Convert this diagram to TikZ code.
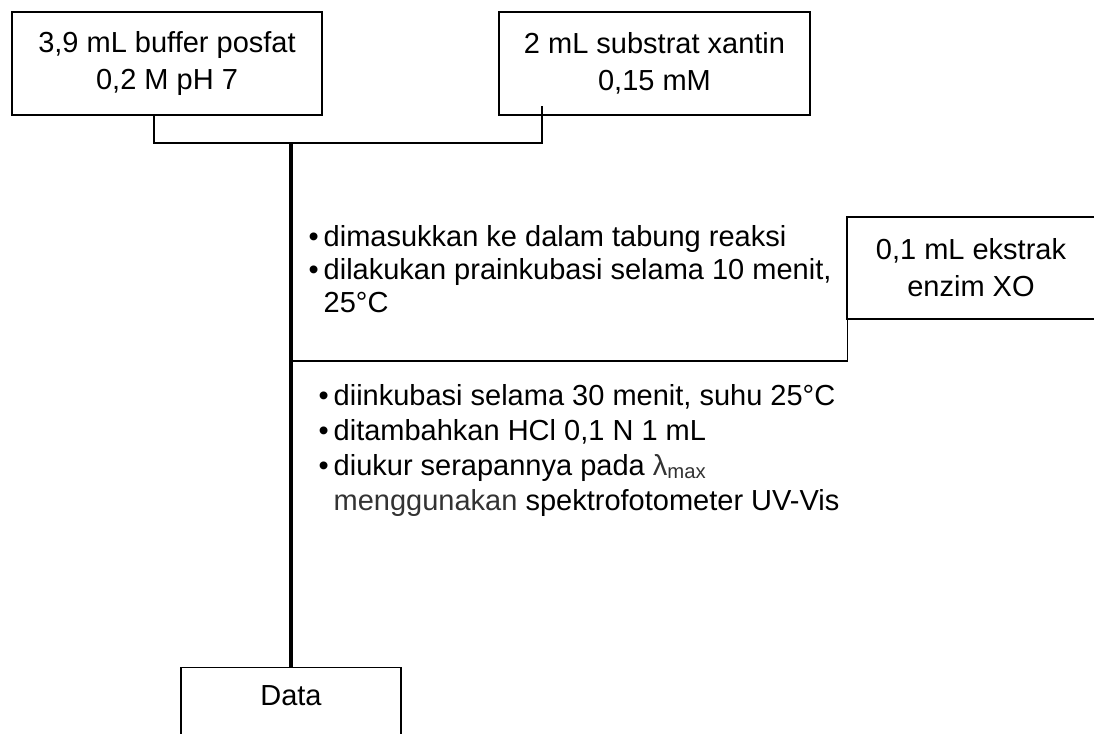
\documentclass[tikz,border=0pt]{standalone}
\usepackage{fontspec}
\setmainfont{Liberation Sans}
\usetikzlibrary{positioning,calc}
\newcommand{\itm}{\makebox[15pt][l]{•}}

\begin{document}
\begin{tikzpicture}[x=1pt,y=-1pt,line width=1.4pt,font=\fontsize{29}{37}\selectfont,
 box/.style={draw,line width=1.4pt,inner sep=0pt,align=center},
 trunk/.style={line width=3.2pt},
 stepline/.style={anchor=base west,inner sep=0pt}]
\useasboundingbox (0,0) rectangle (1094,733);
% bahan awal
\node[box,minimum width=310pt,minimum height=103pt] (buf) at (167,63.5) {3,9 mL buffer posfat\\0,2 M pH 7};
\node[box,minimum width=311pt,minimum height=103pt] (sub) at (654.5,63.5) {2 mL substrat xantin\\0,15 mM};
\node[box,minimum width=248pt,minimum height=102pt] (enz) at (971,268) {0,1 mL ekstrak\\enzim XO};
\node[box,anchor=north,minimum width=220pt,inner sep=9pt,text height=29pt,text depth=57pt] (data) at (291,667) {Data};
\coordinate (mix) at (291,143);
\coordinate (add) at (289,361);
% langkah kerja
\foreach \n/\x/\y/\t in {p1/308/246/{\itm dimasukkan ke dalam tabung reaksi},
 p2/308/279/{\itm dilakukan prainkubasi selama 10 menit,},
 p3/308/312/{\hspace*{15pt}25°C},
 q1/318/405/{\itm diinkubasi selama 30 menit, suhu 25°C},
 q2/318/440/{\itm ditambahkan HCl 0,1 N 1 mL},
 q3/318/475/{\itm diukur serapannya pada {\color{black!80}λ\textsubscript{max}}},
 q4/318/510/{\hspace*{15pt}{\color{black!80}menggunakan} spektrofotometer UV-Vis}}{
 \node[stepline] (\n) at (\x,\y) {\t};
}
% garis
\draw ([xshift=-13pt]buf.south) |- (mix) -| ([xshift=-112.5pt,yshift=10pt]sub.south);
\draw ([xshift=1pt]enz.south west) |- (add);
\draw[trunk] (mix) -- (data.north);
\end{tikzpicture}
\end{document}
